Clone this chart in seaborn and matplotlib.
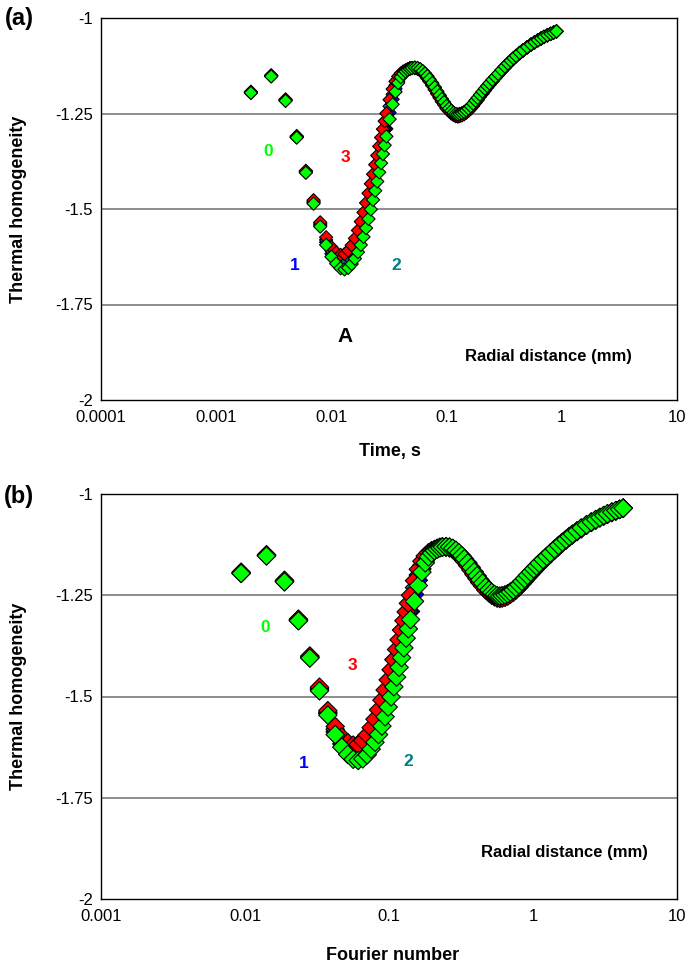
import numpy as np
import pandas as pd
import matplotlib
matplotlib.use("Agg")
import matplotlib.pyplot as plt
from matplotlib.ticker import FixedLocator, FuncFormatter, NullLocator
import seaborn as sns

# ---------------- data ----------------
time_head = [0.002, 0.003, 0.004, 0.005, 0.006, 0.007, 0.008, 0.009, 0.010,
             0.011, 0.012, 0.013, 0.014, 0.015, 0.016, 0.017, 0.018, 0.019,
             0.020, 0.021, 0.022, 0.023, 0.024, 0.025, 0.026, 0.027, 0.028,
             0.029, 0.030, 0.032, 0.034, 0.036, 0.038, 0.040, 0.042, 0.044]
time_tail = [0.046, 0.048, 0.050, 0.053, 0.056, 0.059, 0.062, 0.065, 0.068,
             0.071, 0.075, 0.079, 0.083, 0.087, 0.091, 0.095, 0.100, 0.105,
             0.110, 0.115, 0.120, 0.125, 0.130, 0.136, 0.142, 0.148, 0.155,
             0.162, 0.170, 0.178, 0.186, 0.195, 0.205, 0.215, 0.225, 0.235,
             0.250, 0.265, 0.280, 0.300, 0.320, 0.340, 0.360, 0.380, 0.400,
             0.430, 0.460, 0.500, 0.540, 0.580, 0.620, 0.660, 0.700, 0.750,
             0.800, 0.850, 0.900]

# radial distance 0 mm (green)
head_0 = [-1.196, -1.153, -1.217, -1.313, -1.405, -1.486, -1.546, -1.594, -1.625,
          -1.643, -1.655, -1.658, -1.654, -1.644, -1.630, -1.613, -1.594, -1.573,
          -1.550, -1.526, -1.501, -1.476, -1.452, -1.428, -1.404, -1.380, -1.356,
          -1.333, -1.310, -1.265, -1.226, -1.193, -1.170, -1.155, -1.146, -1.140]
tail_0 = [-1.136, -1.133, -1.131, -1.130, -1.131, -1.134, -1.139, -1.145, -1.152,
          -1.160, -1.170, -1.181, -1.192, -1.202, -1.212, -1.220, -1.230, -1.237,
          -1.243, -1.248, -1.251, -1.252, -1.251, -1.249, -1.246, -1.242, -1.237,
          -1.231, -1.224, -1.216, -1.209, -1.201, -1.193, -1.185, -1.178, -1.171,
          -1.162, -1.154, -1.146, -1.136, -1.127, -1.119, -1.112, -1.105, -1.099,
          -1.091, -1.084, -1.076, -1.069, -1.063, -1.058, -1.053, -1.049, -1.045,
          -1.041, -1.038, -1.035]

# radial distance 1 mm (blue)
head_1 = [-1.196, -1.152, -1.216, -1.312, -1.404, -1.483, -1.542, -1.587, -1.617,
          -1.633, -1.643, -1.645, -1.640, -1.629, -1.613, -1.595, -1.574, -1.552,
          -1.529, -1.505, -1.480, -1.455, -1.430, -1.406, -1.382, -1.358, -1.335,
          -1.312, -1.290, -1.248, -1.213, -1.185, -1.165, -1.152, -1.144, -1.139]
tail_1 = [-1.135, -1.132, -1.131, -1.130, -1.132, -1.135, -1.140, -1.147, -1.154,
          -1.162, -1.172, -1.183, -1.194, -1.204, -1.214, -1.222, -1.232, -1.239,
          -1.245, -1.250, -1.253, -1.254, -1.253, -1.251, -1.248, -1.244, -1.239,
          -1.233, -1.226, -1.218, -1.211, -1.203, -1.195, -1.187, -1.180, -1.173,
          -1.164, -1.155, -1.147, -1.137, -1.128, -1.120, -1.113, -1.106, -1.100,
          -1.092, -1.085, -1.077, -1.070, -1.064, -1.058, -1.054, -1.049, -1.045,
          -1.041, -1.038, -1.035]

# radial distance 2 mm (teal)
head_2 = [-1.195, -1.151, -1.215, -1.311, -1.402, -1.480, -1.539, -1.581, -1.609,
          -1.624, -1.632, -1.632, -1.625, -1.613, -1.596, -1.577, -1.555, -1.532,
          -1.508, -1.483, -1.458, -1.433, -1.408, -1.384, -1.360, -1.336, -1.313,
          -1.291, -1.270, -1.231, -1.200, -1.176, -1.159, -1.149, -1.142, -1.138]
tail_2 = [-1.135, -1.132, -1.131, -1.131, -1.132, -1.136, -1.142, -1.148, -1.156,
          -1.164, -1.175, -1.186, -1.197, -1.207, -1.217, -1.225, -1.235, -1.242,
          -1.248, -1.252, -1.255, -1.256, -1.255, -1.253, -1.250, -1.246, -1.241,
          -1.235, -1.228, -1.220, -1.213, -1.204, -1.196, -1.188, -1.181, -1.174,
          -1.165, -1.156, -1.148, -1.138, -1.129, -1.121, -1.113, -1.106, -1.100,
          -1.092, -1.085, -1.077, -1.070, -1.064, -1.058, -1.054, -1.050, -1.045,
          -1.042, -1.038, -1.035]

# radial distance 3 mm (red)
head_3 = [-1.193, -1.150, -1.213, -1.309, -1.400, -1.477, -1.535, -1.574, -1.600,
          -1.614, -1.620, -1.618, -1.609, -1.595, -1.577, -1.556, -1.533, -1.509,
          -1.484, -1.459, -1.434, -1.409, -1.384, -1.360, -1.336, -1.313, -1.291,
          -1.270, -1.250, -1.214, -1.186, -1.166, -1.153, -1.145, -1.140, -1.137]
tail_3 = [-1.134, -1.132, -1.131, -1.131, -1.133, -1.137, -1.143, -1.150, -1.158,
          -1.166, -1.177, -1.188, -1.199, -1.209, -1.219, -1.227, -1.237, -1.244,
          -1.250, -1.254, -1.257, -1.258, -1.257, -1.255, -1.252, -1.248, -1.243,
          -1.237, -1.230, -1.222, -1.215, -1.206, -1.198, -1.190, -1.182, -1.175,
          -1.166, -1.157, -1.149, -1.139, -1.130, -1.121, -1.114, -1.107, -1.101,
          -1.093, -1.086, -1.077, -1.070, -1.064, -1.059, -1.054, -1.050, -1.046,
          -1.042, -1.038, -1.035]

fourier_per_second = 4.7   # Fourier number = 4.7 * time (s)

radial_labels = ["1", "2", "3", "0"]          # drawing order (green on top)
series_values = {"0": head_0 + tail_0, "1": head_1 + tail_1,
                 "2": head_2 + tail_2, "3": head_3 + tail_3}
marker_colors = {"0": "#00ff00", "1": "#0000ff", "2": "#008080", "3": "#ff0000"}
label_colors = {"0": "#00ff00", "1": "#0000ff", "2": "#008080", "3": "#ff0000"}

time_s = time_head + time_tail
frames = []
for r in radial_labels:
    frames.append(pd.DataFrame({"time": time_s,
                                "fourier": [t * fourier_per_second for t in time_s],
                                "theta": series_values[r],
                                "radial": r}))
df = pd.concat(frames, ignore_index=True)

# ---------------- figure ----------------
sns.set_theme(style="white")
plt.rcParams["font.family"] = ["Liberation Sans", "DejaVu Sans"]
plt.rcParams["text.color"] = "black"
plt.rcParams["axes.labelcolor"] = "black"

W, H = 687, 966
fig = plt.figure(figsize=(W / 100, H / 100), dpi=100)


def fx(x):
    return x / W


def fy(y):
    return 1 - y / H


def box(l, t, r, b):
    return [fx(l), fy(b), fx(r) - fx(l), fy(t) - fy(b)]


ax_a = fig.add_axes(box(101, 18, 677, 400))
ax_b = fig.add_axes(box(101, 494, 677, 899))


def style(ax, xlim, xticks):
    ax.set_xscale("log")
    ax.set_xlim(*xlim)
    ax.set_ylim(-2, -1)
    ax.xaxis.set_major_locator(FixedLocator(xticks))
    ax.xaxis.set_minor_locator(NullLocator())
    ax.xaxis.set_major_formatter(FuncFormatter(lambda v, p: f"{v:g}"))
    ax.yaxis.set_major_locator(FixedLocator([-2, -1.75, -1.5, -1.25, -1]))
    ax.yaxis.set_major_formatter(FuncFormatter(lambda v, p: f"{v:g}"))
    ax.grid(False)
    for yv in [-1.25, -1.5, -1.75]:
        ax.axhline(yv, color="#7a7a7a", linewidth=1.2, zorder=0.5)
    for s in ax.spines.values():
        s.set_visible(True)
        s.set_color("black")
        s.set_linewidth(1.0)
    ax.tick_params(axis="both", which="major", direction="inout", length=8,
                   width=1.0, color="black", labelsize=12, labelcolor="black")
    ax.tick_params(axis="x", pad=3)
    ax.tick_params(axis="y", pad=2)
    ax.set_xlabel("")
    ax.set_ylabel("")
    ax.set_facecolor("white")


for ax, xcol, size, xlim, xticks in [
        (ax_a, "time", 45, (1e-4, 10), [1e-4, 1e-3, 1e-2, 1e-1, 1, 10]),
        (ax_b, "fourier", 88, (1e-3, 10), [1e-3, 1e-2, 1e-1, 1, 10])]:
    ax.set_xscale("log")
    sns.scatterplot(data=df, x=xcol, y="theta", hue="radial",
                    hue_order=["0", "1", "2", "3"], palette=marker_colors,
                    marker="D", s=size, edgecolor="black", linewidth=0.8,
                    legend=False, ax=ax, zorder=3)
    style(ax, xlim, xticks)

# ---------------- texts ----------------
bold = dict(fontweight="bold", ha="center", va="center")
fig.text(fx(19), fy(18), "(a)", fontsize=17, **bold)
fig.text(fx(19), fy(497), "(b)", fontsize=17, **bold)
fig.text(fx(19), fy(209), "Thermal homogeneity", fontsize=13, rotation=90, **bold)
fig.text(fx(19), fy(696), "Thermal homogeneity", fontsize=13, rotation=90, **bold)
fig.text(fx(390), fy(452), "Time, s", fontsize=13, **bold)
fig.text(fx(393), fy(955), "Fourier number", fontsize=13, **bold)

for (lab, xa, ya, xb, yb) in [("0", 268, 151, 265, 628), ("3", 345, 158, 352, 665),
                              ("1", 295, 266, 304, 763), ("2", 396, 266, 408, 762)]:
    fig.text(fx(xa), fy(ya), lab, color=label_colors[lab], fontsize=12.5, **bold)
    fig.text(fx(xb), fy(yb), lab, color=label_colors[lab], fontsize=12.5, **bold)

fig.text(fx(345), fy(337), "A", fontsize=15, **bold)
fig.text(fx(548), fy(356), "Radial distance (mm)", fontsize=12, **bold)
fig.text(fx(564), fy(852), "Radial distance (mm)", fontsize=12, **bold)

fig.savefig("out.png", dpi=100, facecolor="white")
